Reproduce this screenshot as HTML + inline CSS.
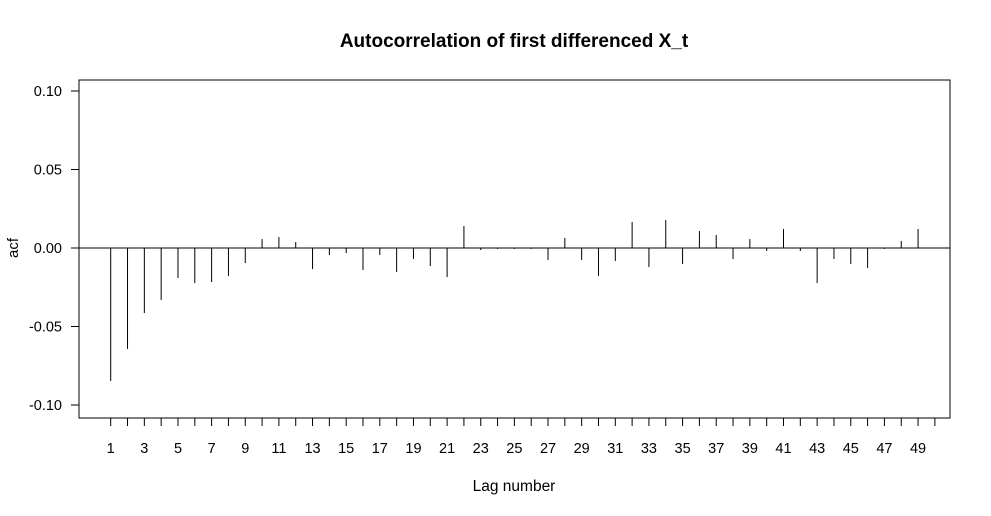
<!DOCTYPE html>
<html><head><meta charset="utf-8"><style>
body{margin:0;background:#fff}
svg{display:block;font-family:"Liberation Sans",sans-serif}
</style></head><body>
<svg id="c" width="991" height="516">
<text x="514" y="47" text-anchor="middle" font-size="19" font-weight="bold">Autocorrelation of first differenced X_t</text>
<rect x="79" y="80" width="871" height="338" fill="none" stroke="#000" stroke-width="1"/>
<text x="514" y="491" text-anchor="middle" font-size="15.5">Lag number</text>
<text transform="translate(18,248) rotate(-90)" text-anchor="middle" font-size="15">acf</text>
<line x1="79" x2="950" y1="248" y2="248" stroke="#000"/>
<g id="g"></g>
</svg>
<script>
const lags=[];for(let i=1;i<=50;i++)lags.push(i);
const acf=[-0.0847,-0.0643,-0.0414,-0.0331,-0.0191,-0.0223,-0.0217,-0.0178,-0.0096,0.0057,0.0070,0.0038,-0.0134,-0.0045,-0.0032,-0.0140,-0.0045,-0.0153,-0.0070,-0.0115,-0.0185,0.0140,-0.0013,-0.0006,-0.0006,-0.0006,-0.0076,0.0064,-0.0076,-0.0178,-0.0083,0.0166,-0.0121,0.0178,-0.0102,0.0108,0.0083,-0.0070,0.0057,-0.0019,0.0121,-0.0019,-0.0223,-0.0070,-0.0102,-0.0127,-0.0006,0.0045,0.0121,0];
const yTicks=[-0.10,-0.05,0.00,0.05,0.10];
const yLabels=["-0.10","-0.05","0.00","0.05","0.10"];
const NS="http://www.w3.org/2000/svg";
const g=document.getElementById('g');
const X=l=>110.7+(l-1)*16.82;
const Y=v=>248-v*1570;
function mk(t,a){const e=document.createElementNS(NS,t);for(const k in a)e.setAttribute(k,a[k]);g.appendChild(e);return e;}
yTicks.forEach((v,i)=>{
 const t=mk('line',{x1:71,x2:79,y1:Y(v),y2:Y(v),stroke:'#000'});
 
 
 const tx=mk('text',{x:62,y:Y(v)+5,'text-anchor':'end','font-size':14.5});
 tx.textContent=yLabels[i];
 
 
});
lags.forEach((l,i)=>{
 const t=mk('line',{x1:X(l),x2:X(l),y1:418,y2:426,stroke:'#000'});
 
 
 if(l%2===1){
  const tx=mk('text',{x:X(l),y:453,'text-anchor':'middle','font-size':14.5});
  tx.textContent=l;
  
  
 }
 const b=mk('line',{x1:X(l),x2:X(l),y1:Y(0),y2:Y(acf[i]),stroke:'#000'});
 
 
});
</script>
</body></html>
